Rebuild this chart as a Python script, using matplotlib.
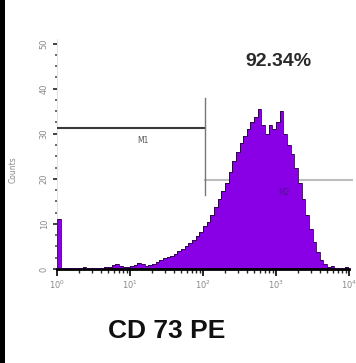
import numpy as np
import matplotlib
matplotlib.use("Agg")
import matplotlib.pyplot as plt
from matplotlib.patches import Rectangle
from matplotlib.ticker import LogLocator, FixedLocator, MultipleLocator

# ---- data ----
log_bin_width = 0.05
counts = [11.0,
          0.3, 0.2, 0.3, 0.2, 0.3, 0.2, 0.4, 0.2, 0.3, 0.2, 0.3, 0.3, 0.4,
          0.5, 0.8, 1.2, 0.6, 0.4, 0.5, 0.6, 0.9, 1.3, 1.0, 0.7, 0.9, 1.2,
          1.6, 2.0, 2.4, 2.6, 2.9, 3.4, 3.9, 4.5, 5.2, 5.8, 6.5, 7.4, 8.3,
          9.5, 10.5, 12.0, 13.8, 15.5, 17.2, 19.0, 21.5, 24.0, 26.0, 28.0,
          29.5, 31.0, 32.5, 33.8, 35.5, 32.0, 30.0, 32.0, 31.0, 32.5, 35.0,
          30.0, 27.5, 25.5, 22.5, 19.0, 15.5, 12.0, 8.8, 6.0, 3.8, 2.0, 1.0,
          0.5, 0.6, 0.3, 0.2, 0.3, 0.4]
y_ticks = [0, 10, 20, 30, 40, 50]
x_ticks = [1, 10, 100, 1000, 10000]
x_tick_labels = [r"$10^{0}$", r"$10^{1}$", r"$10^{2}$", r"$10^{3}$", r"$10^{4}$"]
m1_range = [1, 107]
m1_level = 31.3
m2_range = [107, 11000]
m2_level = 19.8
percent_text = "92.34%"
title_text = "CD 73 PE"

edges = 10 ** (np.arange(len(counts) + 1) * log_bin_width)

fig = plt.figure(figsize=(3.56, 3.63), dpi=100)
fig.patch.set_facecolor("white")
fig.patches.append(Rectangle((0, 0), 5 / 356, 1, transform=fig.transFigure,
                             facecolor="black", edgecolor="none", zorder=10))

ax = fig.add_axes([57 / 356, 94 / 363, (349 - 57) / 356, 230 / 363])
ax.set_xscale("log")
ax.stairs(counts, edges, fill=True, facecolor="#8a00e6", edgecolor="none", zorder=2)
ax.stairs(counts, edges, fill=False, edgecolor="#2a0040", linewidth=0.6, zorder=3)

ax.set_xlim(1, 10000)
ax.set_ylim(0, 51)

for s in ["top", "right"]:
    ax.spines[s].set_visible(False)
ax.spines["bottom"].set_linewidth(2.0)
ax.spines["bottom"].set_color("black")
ax.spines["left"].set_color("#dddddd")
ax.spines["left"].set_linewidth(0.6)

ax.xaxis.set_major_locator(FixedLocator(x_ticks))
ax.set_xticklabels(x_tick_labels)
ax.xaxis.set_minor_locator(LogLocator(base=10, subs=np.arange(2, 10)))
ax.tick_params(axis="x", which="major", length=5, width=1.2, color="black",
               labelsize=6, labelcolor="#8a8a8a", pad=2)
ax.tick_params(axis="x", which="minor", length=3, width=1.0, color="#222222")

ax.yaxis.set_major_locator(FixedLocator(y_ticks))
ax.yaxis.set_minor_locator(MultipleLocator(2.5))
ax.tick_params(axis="y", which="major", length=3, width=1.2, color="#222222",
               labelsize=6, labelcolor="#8a8a8a", pad=3)
ax.tick_params(axis="y", which="minor", length=1.5, width=1.2, color="#555555")
for lbl in ax.get_yticklabels():
    lbl.set_rotation(90)
    lbl.set_va("center")

fig.text(13 / 356, 1 - 170 / 363, "Counts", rotation=90, fontsize=5.5,
         color="#8a8a8a", ha="center", va="center")

# gate markers
ax.plot(m1_range, [m1_level, m1_level], color="#3a3a3a", linewidth=1.5, zorder=4)
ax.plot([m1_range[1], m1_range[1]], [16.5, 38.0], color="#777777", linewidth=1.0, zorder=4)
ax.plot(m2_range, [m2_level, m2_level], color="#bdbdbd", linewidth=1.5, zorder=1.5,
        clip_on=False)
ax.text(15, 28.5, "M1", fontsize=5.5, color="#555555", ha="center", va="center")
ax.text(1300, 17.0, "M2", fontsize=5.5, color="#5a0aa0", ha="center",
        va="center", zorder=3)

fig.text(278 / 356, 1 - 62 / 363, percent_text, fontsize=14, fontweight="bold",
         family="Liberation Sans", color="#2a2a2a", ha="center", va="center")
fig.text(167 / 356, 1 - 331 / 363, title_text, fontsize=19, fontweight="bold",
         family=["Liberation Sans Narrow", "Liberation Sans"], color="#111111",
         ha="center", va="center")

fig.savefig("out.png", dpi=100)
